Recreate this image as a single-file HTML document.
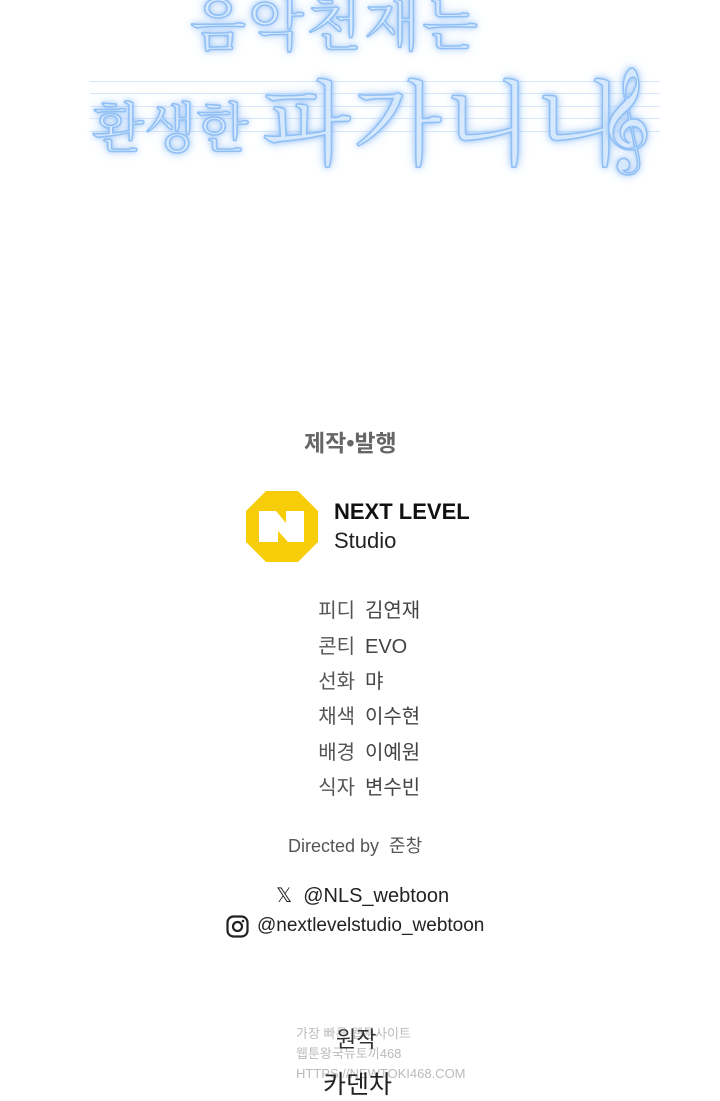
<!DOCTYPE html>
<html><head><meta charset="utf-8"><style>
body{margin:0;width:720px;height:1100px;background:#fff;position:relative;overflow:hidden;font-family:"Liberation Sans","Noto Sans CJK KR",sans-serif;color:#444}
.a{position:absolute;white-space:nowrap}
.t{color:#d6e8fc;font-family:"Noto Serif CJK SC","Noto Sans CJK KR",serif;text-shadow:0 0 6px #7fb4f5,0 0 12px #a9cdf8;-webkit-text-stroke:1.5px #8fbff5}
.line{position:absolute;left:90px;width:570px;height:1px;background:#d8e7fb}
.lb,.v{position:absolute;font-size:20px;line-height:24px;height:24px}
.lb{left:240px;width:115px;text-align:right;color:#555}
.v{left:365px;color:#444}
</style></head><body>
<div class="line" style="top:81px"></div><div class="line" style="top:93px"></div><div class="line" style="top:106px"></div><div class="line" style="top:118px"></div><div class="line" style="top:131px"></div>
<div class="a t" style="left:190px;top:-22px;font-size:58px;letter-spacing:2px">음악천재는</div>
<div class="a t" style="left:92px;top:86px;font-size:54px">환생한</div>
<div class="a t" style="left:262px;top:72px;font-size:92px;letter-spacing:2px;line-height:1">파가니니</div>
<div class="a t" style="left:598px;top:45px;font-size:90px">𝄞</div>
<div class="a" style="left:304px;top:424px;font-size:23px;font-weight:bold;color:#666">제작•발행</div>
<svg class="a" style="left:246px;top:491px" width="72" height="71" viewBox="0 0 72 71">
<polygon points="20,0 52,0 72,20 72,51 52,71 20,71 0,51 0,20" fill="#f7cd0a"/>
<polygon points="13,20 30,20 40,32 40,20 58,20 58,51 42,51 32,40 32,51 13,51" fill="#fff"/>
</svg>
<div class="a" style="left:334px;top:499px;font-size:22px;font-weight:bold;color:#111">NEXT LEVEL</div>
<div class="a" style="left:334px;top:528px;font-size:22px;color:#222">Studio</div>
<div class="lb" style="top:599px">피디</div><div class="v" style="top:599px">김연재</div>
<div class="lb" style="top:635px">콘티</div><div class="v" style="top:635px">EVO</div>
<div class="lb" style="top:670px">선화</div><div class="v" style="top:670px">먀</div>
<div class="lb" style="top:705px">채색</div><div class="v" style="top:705px">이수현</div>
<div class="lb" style="top:741px">배경</div><div class="v" style="top:741px">이예원</div>
<div class="lb" style="top:776px">식자</div><div class="v" style="top:776px">변수빈</div>
<div class="a" style="left:288px;top:832px;font-size:18px;color:#555">Directed by&nbsp; 준창</div>
<div class="a" style="left:276px;top:883px;font-size:20px;color:#222">𝕏&nbsp; @NLS_webtoon</div>
<svg class="a" style="left:226px;top:915px" width="23" height="23" viewBox="0 0 23 23"><rect x="1.5" y="1.5" width="20" height="20" rx="6" fill="none" stroke="#222" stroke-width="2.2"/><circle cx="11.5" cy="11.5" r="4.5" fill="none" stroke="#222" stroke-width="2.2"/><circle cx="17" cy="6" r="1.3" fill="#222"/></svg>
<div class="a" style="left:257px;top:915px;font-size:19px;color:#222">@nextlevelstudio_webtoon</div>
<div class="a" style="left:296px;top:1024px;font-size:13px;color:#bbb;line-height:20px">가장 빠른 웹툰사이트<br>웹툰왕국뉴토끼468<br>HTTPS://NEWTOKI468.COM</div>
<div class="a" style="left:336px;top:1022px;font-size:22px;color:#333">원작</div>
<div class="a" style="left:323px;top:1065px;font-size:25px;color:#222">카덴차</div>
</body></html>
